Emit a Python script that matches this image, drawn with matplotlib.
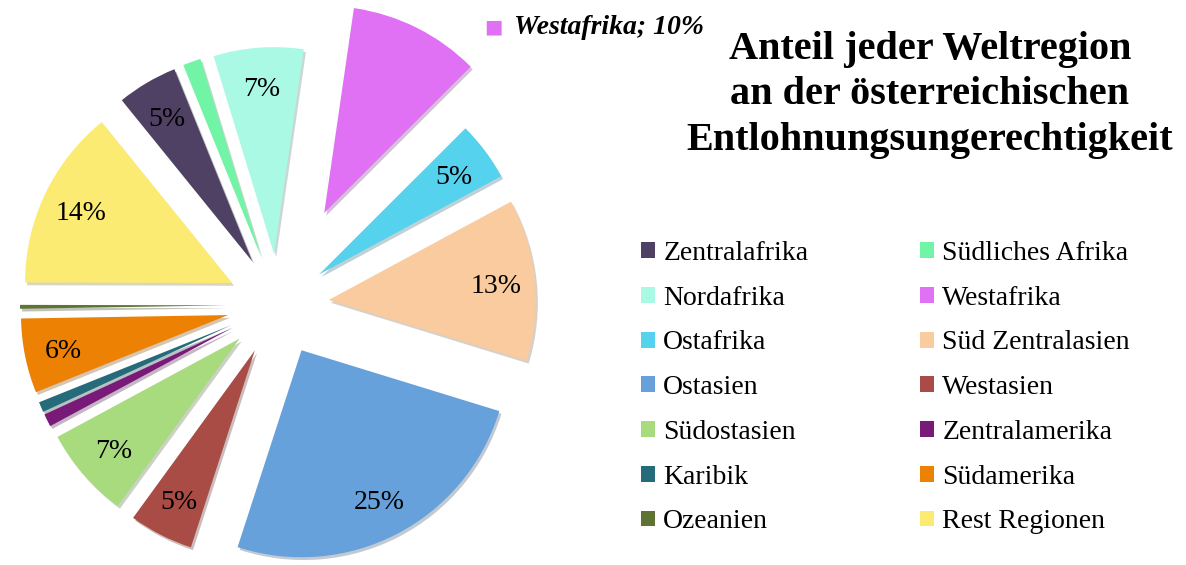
import matplotlib.pyplot as plt
import numpy as np

plt.rcParams['font.family'] = ['Liberation Serif', 'DejaVu Serif']

# data (percent of total)
regions = ['Zentralafrika', 'Südliches Afrika', 'Nordafrika', 'Westafrika',
           'Ostafrika', 'Süd Zentralasien', 'Ostasien', 'Westasien',
           'Südostasien', 'Zentralamerika', 'Karibik', 'Südamerika',
           'Ozeanien', 'Rest Regionen']
shares = [4.7, 1.4, 7.0, 10.2, 4.6, 12.6, 25.2, 5.0, 7.1, 1.0, 0.8, 5.8, 0.3, 14.1]
colors = ['#4F4163', '#72F4A6', '#A9F9E4', '#E070F4', '#55D2EE', '#F9CB9E',
          '#67A1DB', '#A84C45', '#A8DA7E', '#7A1A78', '#266B7A', '#EC8103',
          '#5F7333', '#FCEB72']
title = 'Anteil jeder Weltregion\nan der österreichischen\nEntlohnungsungerechtigkeit'

R = 207  # pie radius in pixels
# explode is in data units here (pixels), Westafrika pulled out twice as far
explode = [103 if r == 'Westafrika' else 51 for r in regions]

fig = plt.figure(figsize=(11.86, 5.65), dpi=100)
ax = fig.add_axes([0, 0, 1, 1])
wedges, _ = ax.pie(shares, colors=colors, startangle=129, counterclock=False,
                   radius=R, center=(278, 260), explode=explode,
                   wedgeprops=dict(linewidth=0),
                   shadow={'ox': 1.5, 'oy': -2.0, 'shade': 0.5, 'alpha': 0.3})
ax.set_xlim(0, 1186)
ax.set_ylim(0, 565)
ax.set_aspect('equal')
ax.axis('off')

# percent labels inside the bigger slices
total = sum(shares)
for w, r, s in zip(wedges, regions, shares):
    pct = s / total * 100
    if pct < 2 or r == 'Westafrika':
        continue
    mid = np.deg2rad((w.theta1 + w.theta2) / 2)
    cx, cy = w.center
    ax.text(cx + 0.81 * w.r * np.cos(mid), cy + 0.81 * w.r * np.sin(mid),
            f'{pct:.0f}%', ha='center', va='center_baseline', fontsize=20)

# callout label for Westafrika
i_w = regions.index('Westafrika')
w_pct = shares[i_w] / total * 100
ax.text(493, 565 - 27, '■', color=colors[i_w], family='DejaVu Sans',
        fontsize=14, ha='center', va='center')
ax.text(514, 565 - 28, f'Westafrika; {w_pct:.0f}%', fontsize=20,
        fontweight='bold', fontstyle='italic', ha='left', va='center')

fig.text(930 / 1186, 1 - 95 / 565, title, ha='center', va='center',
         fontsize=29, fontweight='bold', linespacing=1.29)

# legend in two columns, row-wise order like the original
common = dict(loc='upper left', frameon=False, fontsize=20, handlelength=0.5,
              handleheight=0.5, handletextpad=0.3, labelspacing=0.71,
              borderpad=0, borderaxespad=0)
fig.legend(wedges[0::2], regions[0::2], bbox_to_anchor=(641 / 1186, 1 - 241 / 565),
           **common)
fig.legend(wedges[1::2], regions[1::2], bbox_to_anchor=(920 / 1186, 1 - 241 / 565),
           **common)

plt.savefig('out.png', dpi=100)
